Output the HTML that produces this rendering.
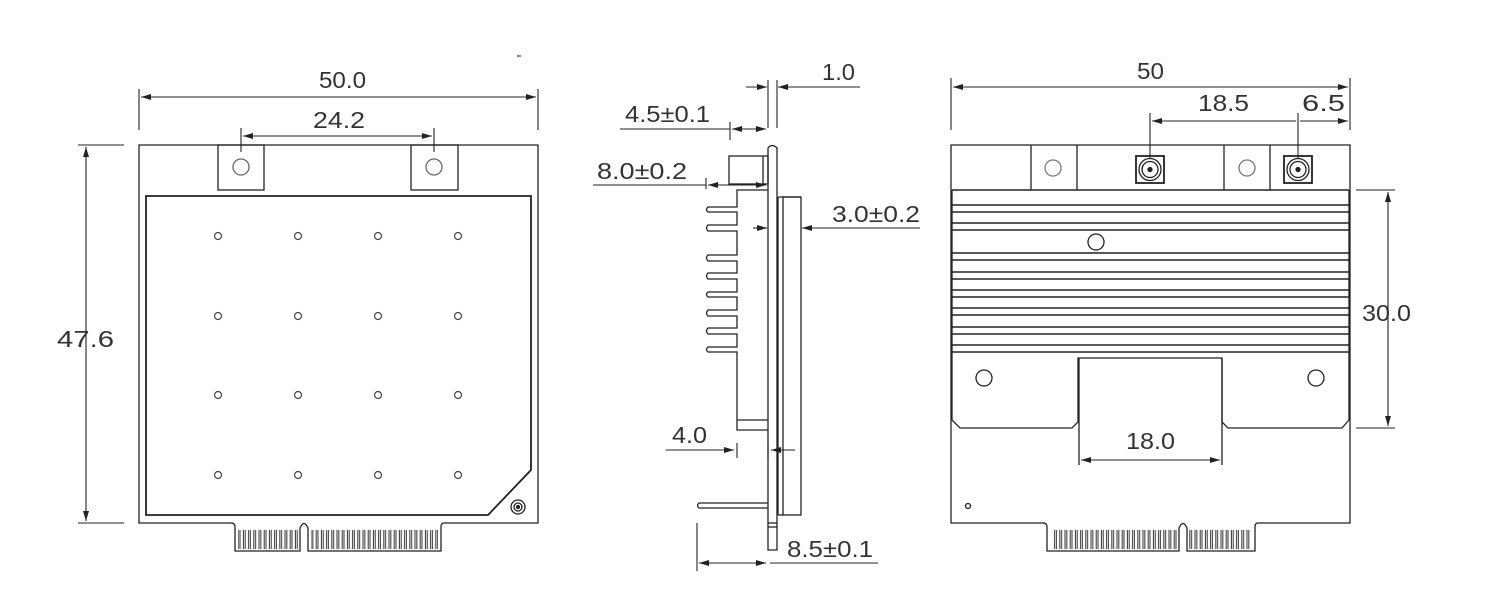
<!DOCTYPE html>
<html><head><meta charset="utf-8"><style>
html,body{margin:0;padding:0;background:#fff;}
svg{display:block;}
text{font-family:"Liberation Sans Narrow","Liberation Sans",sans-serif;font-size:23px;fill:#333;}
</style></head><body>
<svg width="1500" height="610" viewBox="0 0 1500 610" xmlns="http://www.w3.org/2000/svg">
<defs>
<pattern id="fing" x="0" y="0" width="5.2" height="40" patternUnits="userSpaceOnUse">
<rect x="0.8" y="0" width="3.4" height="40" fill="none" stroke="#333" stroke-width="1"/>
</pattern>
<marker id="ah" viewBox="0 0 10 6" refX="10" refY="3" markerWidth="10" markerHeight="6" orient="auto-start-reverse" markerUnits="userSpaceOnUse"><path d="M0,0 L10,3 L0,6 z" fill="#222"/></marker>
</defs>
<g stroke="#222" stroke-width="1.3" fill="none">
<!-- ===== LEFT VIEW ===== -->
<path d="M233,523 L139,523 L139,145 L538,145 L538,523 L444,523 Q441,523 441,527 L441,551 L308,551 L308,528 Q304,519 300,528 L300,551 L235,551 L235,527 Q235,523 231,523"/>
<rect x="238" y="530" width="60" height="19" fill="url(#fing)" stroke="none"/>
<rect x="311" y="530" width="127" height="19" fill="url(#fing)" stroke="none"/>
<rect x="218" y="145" width="46" height="45"/>
<rect x="411" y="145" width="47" height="45"/>
<circle cx="241" cy="167" r="8" stroke="#666"/>
<circle cx="434" cy="167" r="8" stroke="#666"/>
<path d="M146,196 L531,196 L531,470 L488,515 L146,515 Z" stroke-width="1.8"/>
<circle cx="518" cy="507" r="7"/><circle cx="518" cy="507" r="4"/><circle cx="518" cy="507" r="1.5" fill="#222"/>
<g stroke="#444" stroke-width="1.2">
<circle cx="218" cy="236" r="3.5"/><circle cx="298" cy="236" r="3.5"/><circle cx="378" cy="236" r="3.5"/><circle cx="458" cy="236" r="3.5"/>
<circle cx="218" cy="316" r="3.5"/><circle cx="298" cy="316" r="3.5"/><circle cx="378" cy="316" r="3.5"/><circle cx="458" cy="316" r="3.5"/>
<circle cx="218" cy="395" r="3.5"/><circle cx="298" cy="395" r="3.5"/><circle cx="378" cy="395" r="3.5"/><circle cx="458" cy="395" r="3.5"/>
<circle cx="218" cy="475" r="3.5"/><circle cx="298" cy="475" r="3.5"/><circle cx="378" cy="475" r="3.5"/><circle cx="458" cy="475" r="3.5"/>
</g>
<!-- dims left -->
<g stroke-width="1.1">
<line x1="139" y1="89" x2="139" y2="130"/><line x1="538" y1="89" x2="538" y2="130"/>
<line x1="141" y1="97" x2="536" y2="97" marker-start="url(#ah)" marker-end="url(#ah)"/>
<line x1="241" y1="128" x2="241" y2="152"/><line x1="434" y1="128" x2="434" y2="152"/>
<line x1="243" y1="136" x2="432" y2="136" marker-start="url(#ah)" marker-end="url(#ah)"/>
<line x1="78" y1="145" x2="124" y2="145"/><line x1="78" y1="523" x2="124" y2="523"/>
<line x1="86" y1="147" x2="86" y2="521" marker-start="url(#ah)" marker-end="url(#ah)"/>
<line x1="517" y1="56" x2="521" y2="56"/>
</g>

<!-- ===== SIDE VIEW ===== -->
<path d="M768,550 L768,148 Q772,143 777,148 L777,550 Z"/>
<line x1="768" y1="523" x2="777" y2="523"/><line x1="768" y1="527" x2="777" y2="527"/>
<rect x="729" y="156" width="39" height="28"/><line x1="763" y1="156" x2="763" y2="184"/>
<rect x="783" y="197" width="18" height="318"/>
<line x1="778" y1="197" x2="778" y2="515"/><line x1="778" y1="197" x2="801" y2="197"/><line x1="778" y1="515" x2="783" y2="515"/>
<path d="M768,190 L737,190 L737,207 L708,207 Q705,209.5 708,212 L737,212 L737,225 L708,225 Q705,228 708,231 L737,231 L737,255 L708,255 Q705,258 708,261 L737,261 L737,273 L708,273 Q705,276 708,279 L737,279 L737,292 L708,292 Q705,294.5 708,297 L737,297 L737,310 L708,310 Q705,313 708,316 L737,316 L737,328 L708,328 Q705,331 708,334 L737,334 L737,347 L708,347 Q705,349.5 708,352 L737,352 L737,430 L768,430"/>
<line x1="737" y1="420" x2="768" y2="420"/>
<path d="M768,503 L699,503 Q696,505.5 699,508 L768,508"/>
<!-- dims side -->
<g stroke-width="1.1">
<line x1="768" y1="80" x2="768" y2="128"/><line x1="777" y1="80" x2="777" y2="128"/>
<line x1="746" y1="87" x2="767" y2="87" marker-end="url(#ah)"/>
<line x1="860" y1="87" x2="778" y2="87" marker-end="url(#ah)"/>
<line x1="620" y1="129" x2="730" y2="129"/><line x1="730" y1="122" x2="730" y2="140"/>
<line x1="732" y1="129" x2="766" y2="129" marker-start="url(#ah)" marker-end="url(#ah)"/>
<line x1="593" y1="185" x2="706" y2="185"/><line x1="706" y1="178" x2="706" y2="189"/>
<line x1="708" y1="185" x2="766" y2="185" marker-start="url(#ah)" marker-end="url(#ah)"/>
<line x1="753" y1="228" x2="767" y2="228" marker-end="url(#ah)"/>
<line x1="920" y1="228" x2="802" y2="228" marker-end="url(#ah)"/>
<line x1="666" y1="450" x2="734" y2="450" marker-end="url(#ah)"/>
<line x1="737" y1="443" x2="737" y2="458"/><line x1="768" y1="443" x2="768" y2="458"/>
<line x1="795" y1="450" x2="771" y2="450" marker-end="url(#ah)"/>
<line x1="697" y1="523" x2="697" y2="571"/>
<line x1="699" y1="563" x2="766" y2="563" marker-start="url(#ah)" marker-end="url(#ah)"/>
<line x1="770" y1="563" x2="878" y2="563"/>
</g>

<!-- ===== RIGHT VIEW ===== -->
<path d="M1045,523 L951,523 L951,145 L1350,145 L1350,523 L1258,523 Q1255,523 1255,527 L1255,551 L1187,551 L1187,528 Q1183,519 1179,528 L1179,551 L1047,551 L1047,527 Q1047,523 1043,523"/>
<rect x="1052" y="530" width="125" height="19" fill="url(#fing)" stroke="none"/>
<rect x="1189" y="530" width="62" height="19" fill="url(#fing)" stroke="none"/>
<line x1="1031" y1="145" x2="1031" y2="190"/><line x1="1077" y1="145" x2="1077" y2="190"/>
<line x1="1224" y1="145" x2="1224" y2="190"/><line x1="1270" y1="145" x2="1270" y2="190"/>
<circle cx="1053" cy="168" r="8" stroke="#777"/><circle cx="1247" cy="168" r="8" stroke="#777"/>
<rect x="1136" y="156" width="28" height="27" stroke-width="1.8"/><circle cx="1150" cy="169.5" r="11"/><circle cx="1150" cy="169.5" r="8"/><circle cx="1150" cy="169.5" r="2" fill="#222"/>
<rect x="1284" y="156" width="28" height="27" stroke-width="1.8"/><circle cx="1298" cy="169.5" r="11"/><circle cx="1298" cy="169.5" r="8"/><circle cx="1298" cy="169.5" r="2" fill="#222"/>
<line x1="952" y1="190" x2="952" y2="420"/><line x1="1349" y1="190" x2="1349" y2="420"/>
<g stroke-width="1.5">
<line x1="952" y1="190" x2="1349" y2="190"/>
<line x1="952" y1="205" x2="1349" y2="205"/><line x1="952" y1="212" x2="1349" y2="212"/>
<line x1="952" y1="223" x2="1349" y2="223"/><line x1="952" y1="230" x2="1349" y2="230"/>
<line x1="952" y1="253" x2="1349" y2="253"/><line x1="952" y1="260" x2="1349" y2="260"/>
<line x1="952" y1="272" x2="1349" y2="272"/><line x1="952" y1="279" x2="1349" y2="279"/>
<line x1="952" y1="290" x2="1349" y2="290"/><line x1="952" y1="297" x2="1349" y2="297"/>
<line x1="952" y1="308" x2="1349" y2="308"/><line x1="952" y1="315" x2="1349" y2="315"/>
<line x1="952" y1="327" x2="1349" y2="327"/><line x1="952" y1="334" x2="1349" y2="334"/>
<line x1="952" y1="345" x2="1349" y2="345"/><line x1="952" y1="352" x2="1349" y2="352"/>
</g>
<circle cx="1096" cy="242" r="8"/>
<path d="M952,420 L960,428 L1072,428 L1078,422 L1078,358 L1222,358 L1222,422 L1228,428 L1342,428 L1349,420"/>
<line x1="1079" y1="358" x2="1079" y2="465"/><line x1="1222" y1="358" x2="1222" y2="465"/>
<circle cx="984" cy="378" r="8"/><circle cx="1316" cy="378" r="8"/>
<circle cx="968" cy="506" r="2.5"/>
<!-- dims right -->
<g stroke-width="1.1">
<line x1="951" y1="78" x2="951" y2="130"/><line x1="1350" y1="78" x2="1350" y2="130"/>
<line x1="953" y1="87" x2="1348" y2="87" marker-start="url(#ah)" marker-end="url(#ah)"/>
<line x1="1150" y1="113" x2="1150" y2="158"/><line x1="1298" y1="113" x2="1298" y2="158"/>
<line x1="1152" y1="121" x2="1296" y2="121" marker-start="url(#ah)"/>
<line x1="1300" y1="121" x2="1348" y2="121" marker-end="url(#ah)"/>
<line x1="1356" y1="190" x2="1395" y2="190"/><line x1="1356" y1="428" x2="1395" y2="428"/>
<line x1="1388" y1="192" x2="1388" y2="426" marker-start="url(#ah)" marker-end="url(#ah)"/>
<line x1="1081" y1="460" x2="1220" y2="460" marker-start="url(#ah)" marker-end="url(#ah)"/>
</g>
</g>
<!-- labels -->
<text x="319" y="88" textLength="47" lengthAdjust="spacingAndGlyphs">50.0</text>
<text x="313" y="128" textLength="52" lengthAdjust="spacingAndGlyphs">24.2</text>
<text x="57" y="347" textLength="57" lengthAdjust="spacingAndGlyphs">47.6</text>
<text x="822" y="80" textLength="33" lengthAdjust="spacingAndGlyphs">1.0</text>
<text x="625" y="122" textLength="85" lengthAdjust="spacingAndGlyphs">4.5±0.1</text>
<text x="597" y="179" textLength="90" lengthAdjust="spacingAndGlyphs">8.0±0.2</text>
<text x="832" y="222" textLength="88" lengthAdjust="spacingAndGlyphs">3.0±0.2</text>
<text x="672" y="443" textLength="35" lengthAdjust="spacingAndGlyphs">4.0</text>
<text x="787" y="557" textLength="86" lengthAdjust="spacingAndGlyphs">8.5±0.1</text>
<text x="1137" y="79" textLength="27" lengthAdjust="spacingAndGlyphs">50</text>
<text x="1198" y="111" textLength="51" lengthAdjust="spacingAndGlyphs">18.5</text>
<text x="1302" y="111" textLength="43" lengthAdjust="spacingAndGlyphs">6.5</text>
<text x="1362" y="321" textLength="49" lengthAdjust="spacingAndGlyphs">30.0</text>
<text x="1126" y="449" textLength="49" lengthAdjust="spacingAndGlyphs">18.0</text>
</svg>
</body></html>
